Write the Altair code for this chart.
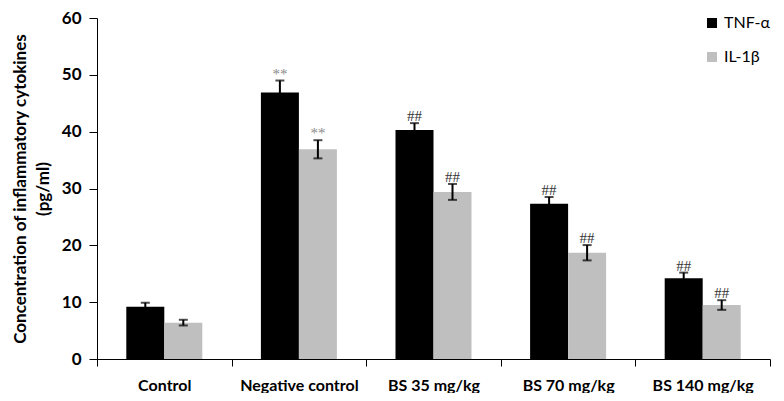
import altair as alt
import pandas as pd

groups = ["Control", "Negative control", "BS 35 mg/kg", "BS 70 mg/kg", "BS 140 mg/kg"]
cytokines = ["TNF-α", "IL-1β"]
tnf = [9.2, 46.9, 40.3, 27.3, 14.2]
tnf_err = [0.7, 2.1, 1.2, 1.2, 1.0]
il = [6.4, 36.9, 29.4, 18.7, 9.5]
il_err = [0.5, 1.6, 1.4, 1.35, 0.85]
tnf_marks = ["", "**", "##", "##", "##"]
il_marks = ["", "**", "##", "##", "##"]

rows = []
for i, g in enumerate(groups):
    rows.append({"group": g, "cyt": cytokines[0], "value": tnf[i], "err": tnf_err[i], "mark": tnf_marks[i]})
    rows.append({"group": g, "cyt": cytokines[1], "value": il[i], "err": il_err[i], "mark": il_marks[i]})
df = pd.DataFrame(rows)

FONT = "Lato"

x_enc = alt.X("group:N", sort=groups, title=None,
              scale=alt.Scale(paddingInner=0, paddingOuter=0),
              axis=alt.Axis(labelAngle=0, tickBand="extent", tickSize=7, tickColor="black",
                            domainColor="black", labelFontSize=16, labelFontWeight="bold",
                            labelFont=FONT, labelColor="black", labelPadding=11))
xo_enc = alt.XOffset("cyt:N", sort=cytokines,
                     scale=alt.Scale(paddingInner=0, paddingOuter=0.771))

base = alt.Chart(df).transform_calculate(
    lo="datum.value - datum.err", hi="datum.value + datum.err"
)

bars = base.mark_bar().encode(
    x=x_enc,
    xOffset=xo_enc,
    y=alt.Y("value:Q", scale=alt.Scale(domain=[0, 60]),
            title=["Concentration of inflammatory cytokines", "(pg/ml)"],
            axis=alt.Axis(values=[0, 10, 20, 30, 40, 50, 60], grid=False, tickSize=8,
                          tickColor="black", domainColor="black", labelFontSize=17,
                          labelFontWeight="bold", labelFont=FONT, labelColor="black",
                          labelPadding=8, titleFont=FONT, titleFontSize=17,
                          titleFontWeight="bold", titleColor="black", titlePadding=9,
                          titleLineHeight=23)),
    color=alt.Color("cyt:N", sort=cytokines,
                    scale=alt.Scale(domain=cytokines, range=["#000000", "#bfbfbf"]),
                    legend=alt.Legend(title=None, orient="none", legendX=607, legendY=-3,
                                      symbolType="square", symbolSize=100,
                                      symbolStrokeWidth=0, labelFont=FONT,
                                      labelFontSize=16, labelColor="black",
                                      rowPadding=18, labelOffset=4)),
)

rules = base.mark_rule(color="black", strokeWidth=2).encode(
    x=alt.X("group:N", sort=groups), xOffset=xo_enc,
    y="lo:Q", y2="hi:Q",
)
caps_hi = base.mark_tick(color="black", size=9, thickness=2).encode(
    x=alt.X("group:N", sort=groups), xOffset=xo_enc, y="hi:Q",
)
caps_lo = base.mark_tick(color="black", size=9, thickness=2).encode(
    x=alt.X("group:N", sort=groups), xOffset=xo_enc, y="lo:Q",
)
labels = base.mark_text(font="Times New Roman", fontSize=15, baseline="alphabetic", dy=-2).encode(
    x=alt.X("group:N", sort=groups), xOffset=xo_enc, y="hi:Q", text="mark:N",
    color=alt.condition("datum.mark == '**'", alt.value("#8a8a8a"), alt.value("#333333")),
)

chart = alt.layer(bars, rules, caps_hi, caps_lo, labels).properties(
    width=673, height=341,
    autosize=alt.AutoSizeParams(type="none"),
    padding={"left": 89, "top": 10, "right": 6, "bottom": 34},
).configure_view(stroke=None)

chart.save("out.html", embed_options={"renderer": "svg", "actions": False})
